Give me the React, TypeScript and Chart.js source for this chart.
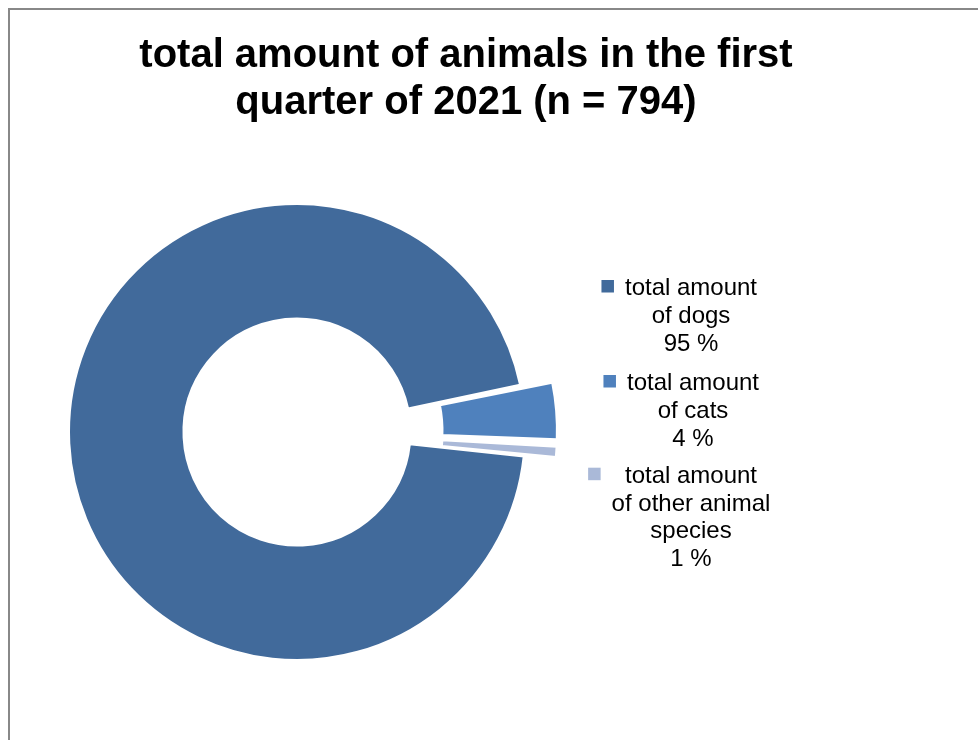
import React, { useEffect, useRef } from "react";
import { Chart, registerables } from "chart.js";

Chart.register(...registerables);

// ---- data ----
const titleLines = ["total amount of animals in the first", "quarter of 2021 (n = 794)"];
const categories = ["total amount of dogs", "total amount of cats", "total amount of other animal species"];
const counts = [754, 32, 8];
const legendLabelLines = [
  ["total amount", "of dogs"],
  ["total amount", "of cats"],
  ["total amount", "of other animal", "species"],
];
const colors = ["#416a9b", "#4f81bd", "#aab9d8"];
const explodeDistance = [0, 32, 32];

const FONT = '"Liberation Sans", Arial, Helvetica, sans-serif';

// Chart.js arc offset moves a slice by offset/4 and grows its radii by offset/4*(1-sin(angle));
// pick the option so the slice moves outward by the wanted distance.
const totalCount = counts.reduce((a, b) => a + b, 0);
const arcOffsets = counts.map((c, i) => {
  const angle = (c / totalCount) * Math.PI * 2;
  const fix = 1 - Math.sin(Math.min(Math.PI, angle));
  return (explodeDistance[i] * 4) / (1 + fix);
});

const decorPlugin = {
  id: "decor",
  beforeDraw(chart: any) {
    const ctx = chart.ctx as CanvasRenderingContext2D;
    ctx.save();
    ctx.fillStyle = "#ffffff";
    ctx.fillRect(0, 0, chart.width, chart.height);
    ctx.strokeStyle = "#888888";
    ctx.lineWidth = 2;
    ctx.beginPath();
    ctx.moveTo(9, chart.height + 5);
    ctx.lineTo(9, 9);
    ctx.lineTo(chart.width + 5, 9);
    ctx.stroke();
    ctx.restore();
  },
  afterDraw(chart: any) {
    const ctx = chart.ctx as CanvasRenderingContext2D;
    ctx.save();
    // title
    ctx.fillStyle = "#000000";
    ctx.textAlign = "center";
    ctx.textBaseline = "alphabetic";
    ctx.font = `bold 40px ${FONT}`;
    const titleBaselines = [67, 114];
    titleLines.forEach((t, i) => ctx.fillText(t, 466, titleBaselines[i]));

    // legend
    ctx.font = `24px ${FONT}`;
    const centers = [691, 693, 691];
    const firstBaselines = [295, 390, 482.7];
    const lineH = 27.8;
    categories.forEach((_, i) => {
      const pct = Math.round((counts[i] / totalCount) * 100);
      const lines = [...legendLabelLines[i], `${pct} %`];
      const cx = centers[i];
      const base = firstBaselines[i];
      let w = 0;
      lines.forEach((t, j) => {
        w = Math.max(w, ctx.measureText(t).width);
        ctx.fillStyle = "#000000";
        ctx.fillText(t, cx, base + j * lineH);
      });
      ctx.fillStyle = colors[i];
      const size = 12.5;
      ctx.fillRect(cx - w / 2 - 11 - size, base - 15, size, size);
    });
    ctx.restore();
  },
};

export default function App() {
  const ref = useRef<HTMLCanvasElement | null>(null);

  useEffect(() => {
    if (!ref.current) return;
    const chart = new Chart(ref.current, {
      type: "doughnut",
      data: {
        labels: categories,
        datasets: [
          {
            data: counts,
            backgroundColor: colors,
            borderColor: "#ffffff",
            borderWidth: 2,
            offset: arcOffsets,
          },
        ],
      },
      options: {
        responsive: false,
        animation: false,
        events: [],
        rotation: 96.2,
        radius: 228,
        cutout: "49.8%",
        layout: { padding: { left: 70, right: 454, top: 205, bottom: 81 } },
        plugins: {
          legend: { display: false },
          title: { display: false },
          tooltip: { enabled: false },
        },
      } as any,
      plugins: [decorPlugin],
    });
    return () => chart.destroy();
  }, []);

  return (
    <div style={{ position: "fixed", left: 0, top: 0, width: 978, height: 740, overflow: "hidden" }}>
      <canvas ref={ref} width={978} height={740} style={{ display: "block", width: 978, height: 740 }} />
    </div>
  );
}
